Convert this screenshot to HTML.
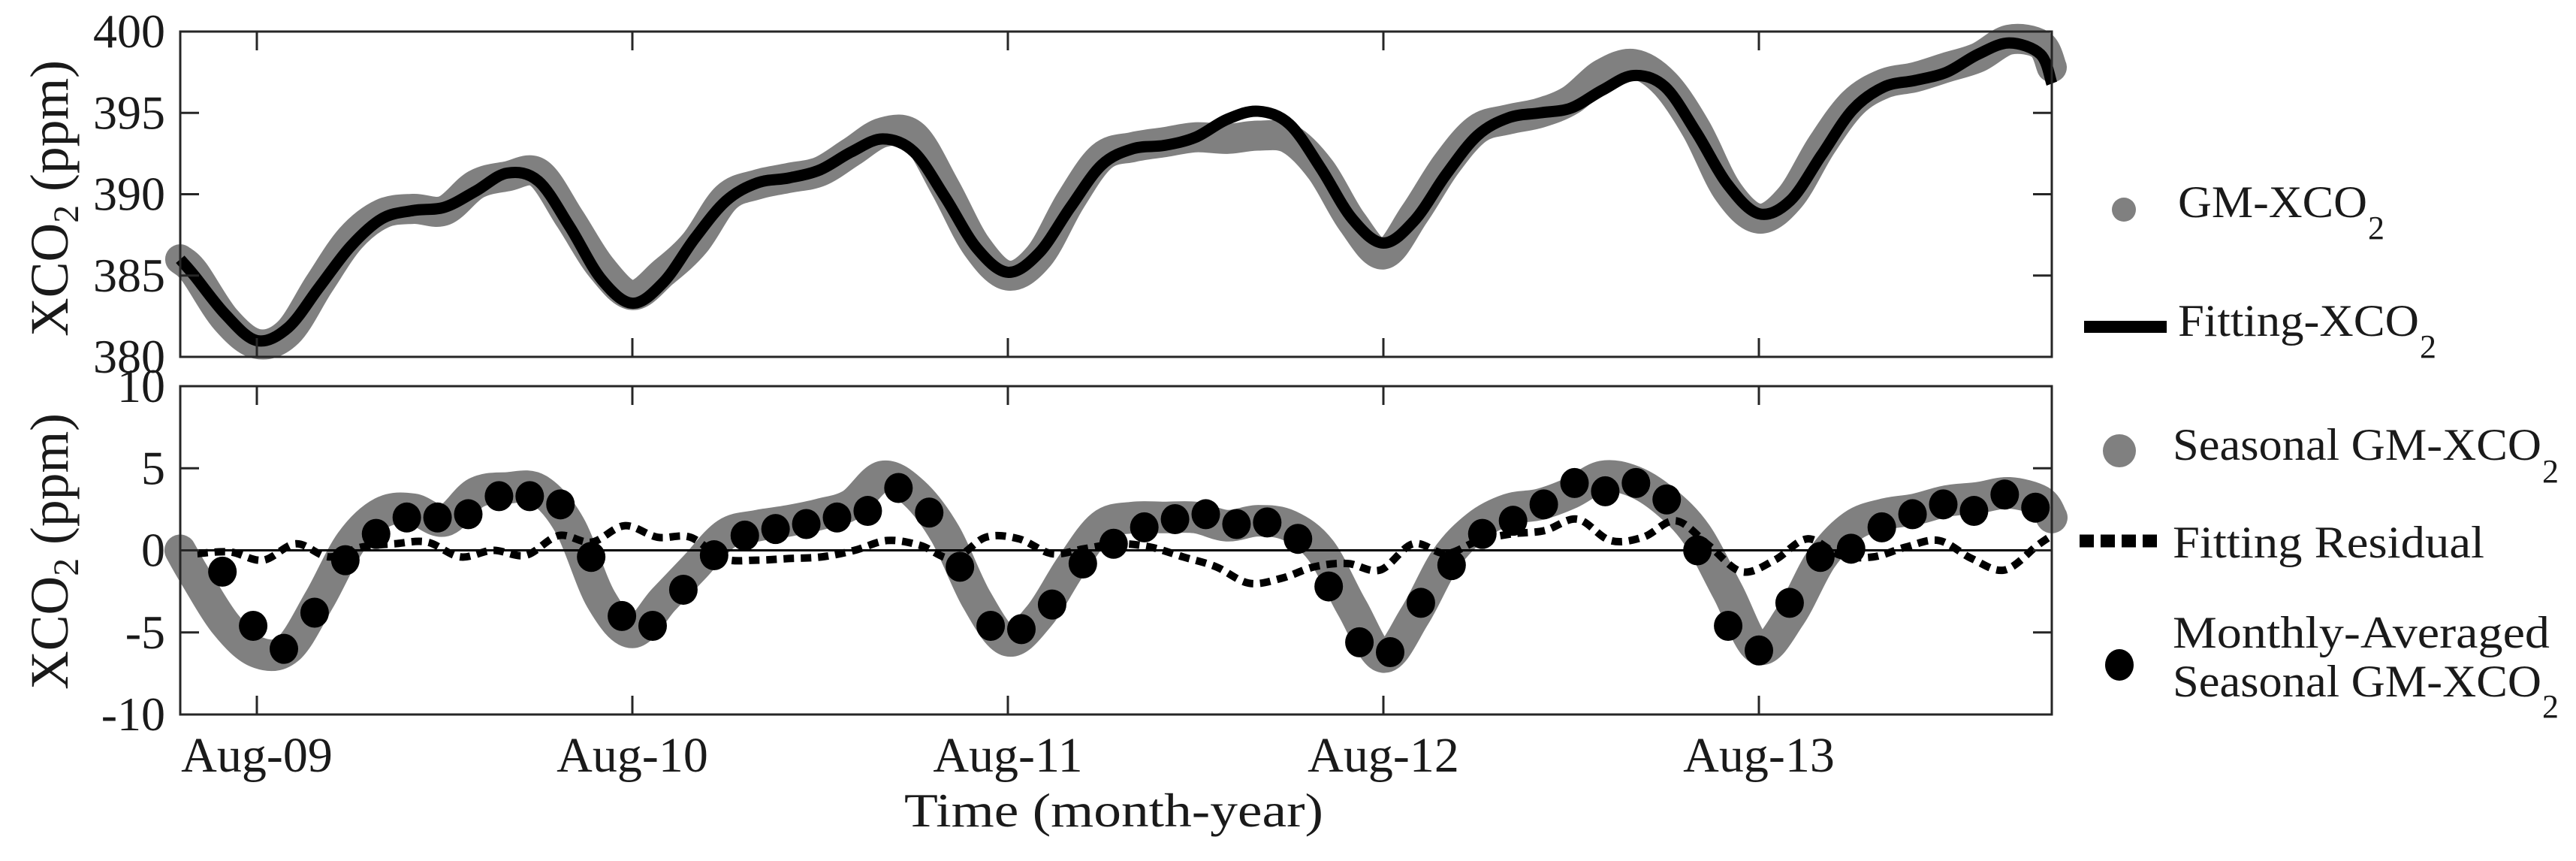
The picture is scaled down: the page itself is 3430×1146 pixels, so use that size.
<!DOCTYPE html>
<html><head><meta charset="utf-8"><style>
html,body{margin:0;padding:0;background:#fff;}
svg{display:block;}
text{font-family:"Liberation Serif",serif;fill:#1a1a1a;}
</style></head><body>
<svg id="chart" width="3430" height="1146" viewBox="0 0 3430 1146" xmlns="http://www.w3.org/2000/svg">
<g id="topPlot"></g>
<g id="botPlot"></g>
<g id="axes"></g>
<text transform="translate(90,264) rotate(-90)" text-anchor="middle" font-size="72" textLength="368" lengthAdjust="spacingAndGlyphs">XCO<tspan font-size="48" dy="14">2</tspan><tspan dy="-14"> (ppm)</tspan></text>
<text transform="translate(90,734) rotate(-90)" text-anchor="middle" font-size="72" textLength="368" lengthAdjust="spacingAndGlyphs">XCO<tspan font-size="48" dy="14">2</tspan><tspan dy="-14"> (ppm)</tspan></text>
<text x="1483" y="1100" text-anchor="middle" font-size="64" textLength="558" lengthAdjust="spacingAndGlyphs">Time (month-year)</text>
<g>
<ellipse cx="2828" cy="279" rx="16" ry="16" fill="#808080"/>
<text x="2900" y="289" font-size="60" textLength="252" lengthAdjust="spacingAndGlyphs">GM-XCO</text>
<text x="3153" y="318" font-size="44" textLength="22" lengthAdjust="spacingAndGlyphs">2</text>
<rect x="2775" y="427" width="110" height="16" fill="#000"/>
<text x="2900" y="447" font-size="60" textLength="321" lengthAdjust="spacingAndGlyphs">Fitting-XCO</text>
<text x="3222" y="476" font-size="44" textLength="22" lengthAdjust="spacingAndGlyphs">2</text>
<ellipse cx="2822" cy="600" rx="22" ry="22" fill="#808080"/>
<text x="2893" y="612" font-size="60" textLength="491" lengthAdjust="spacingAndGlyphs">Seasonal GM-XCO</text>
<text x="3385" y="642" font-size="44" textLength="22" lengthAdjust="spacingAndGlyphs">2</text>
<line x1="2769" y1="720" x2="2872" y2="720" stroke="#000" stroke-width="17" stroke-dasharray="19 9"/>
<text x="2893" y="742" font-size="60" textLength="415" lengthAdjust="spacingAndGlyphs">Fitting Residual</text>
<ellipse cx="2822" cy="885" rx="19" ry="21" fill="#000"/>
<text x="2893" y="862" font-size="60" textLength="502" lengthAdjust="spacingAndGlyphs">Monthly-Averaged</text>
<text x="2893" y="927" font-size="60" textLength="491" lengthAdjust="spacingAndGlyphs">Seasonal GM-XCO</text>
<text x="3385" y="955" font-size="44" textLength="22" lengthAdjust="spacingAndGlyphs">2</text>
</g>
</svg>
<script>
// months counted from Jan-2009 = 0 (Aug-09 = 7)
const fitMonths = [4.55,5,6,7,8,9,10,11,12,13,14,15,16,17,18,19,20,21,22,23,24,25,26,27,28,29,30,31,32,33,34,35,36,37,38,39,40,41,42,43,44,45,46,47,48,49,50,51,52,53,54,55,56,57,58,59,60,61,62,63,64,64.36];
const fitValues = [386.0,385.0,382.6,381.0,381.8,384.3,386.8,388.5,389.0,389.2,390.2,391.3,390.8,388.0,384.8,383.3,384.6,387.3,389.6,390.7,391.0,391.5,392.6,393.4,392.6,389.8,386.7,385.2,386.4,389.2,391.8,392.8,393.0,393.5,394.6,395.1,394.3,391.6,388.5,387.0,388.4,391.2,393.6,394.7,395.0,395.3,396.4,397.3,396.6,393.8,390.6,388.8,389.6,392.4,395.2,396.6,397.0,397.5,398.6,399.3,398.6,396.8];
const gmValues = [386.0,385.2,382.3,380.8,381.5,384.5,387.3,388.8,389.1,389.0,390.6,391.1,391.3,388.5,385.5,383.8,385.2,387.0,389.8,390.6,391.0,391.4,392.6,393.8,393.6,390.4,386.8,385.0,386.2,389.6,392.3,392.9,393.2,393.5,393.4,393.6,393.4,391.5,388.3,386.3,388.8,391.8,394.0,394.6,395.0,395.8,397.4,398.0,396.8,394.0,390.2,388.5,389.8,393.0,395.6,396.8,397.2,397.8,398.4,399.5,399.2,397.8];
const seasonalValues = [0,-1.5,-4.5,-6.2,-6.0,-3.0,0.5,2.3,2.5,1.8,3.5,3.8,3.7,1.5,-3.0,-5.0,-3.0,-1.0,1.0,1.5,1.8,2.2,2.8,4.5,3.5,1.0,-3.0,-5.5,-4.0,-1.0,1.5,2.0,2.0,2.0,1.5,1.8,1.5,0,-3.5,-6.5,-4.0,-0.5,1.5,2.5,2.8,3.5,4.5,4.2,3.0,1.0,-2.5,-6.0,-4.0,-0.5,1.5,2.2,2.5,3.0,3.2,3.5,3.0,2.0];
const monthlyValues = [-1.3,-4.6,-6.0,-3.8,-0.6,1.0,2.0,2.0,2.2,3.3,3.3,2.8,-0.4,-4.0,-4.6,-2.4,-0.3,0.9,1.3,1.6,2.0,2.4,3.8,2.3,-1.0,-4.6,-4.8,-3.3,-0.8,0.4,1.4,1.9,2.2,1.6,1.7,0.7,-2.2,-5.6,-6.2,-3.2,-0.9,1.0,1.8,2.8,4.1,3.6,4.1,3.1,0.0,-4.6,-6.1,-3.2,-0.4,0.1,1.4,2.2,2.8,2.4,3.4,2.6];
const residualValues = [-0.2,-0.1,-0.6,0.4,-0.4,0.2,0.4,0.5,-0.4,0,-0.3,0.9,0.5,1.5,0.8,0.8,-0.5,-0.6,-0.5,-0.4,0,0.6,0.3,-0.5,0.8,0.7,-0.2,0.1,0.4,0.2,-0.4,-1.0,-2.0,-1.7,-1.0,-0.8,-1.2,0.4,-0.2,0.6,1.0,1.2,1.9,0.6,0.8,1.8,0.3,-1.3,-0.6,0.7,-0.3,-0.4,0.2,0.6,-0.5,-1.2,0.3,0.9];
const xTickLabels = ["Aug-09","Aug-10","Aug-11","Aug-12","Aug-13"];
const xTickMonths = [7,19,31,43,55];
const topYTicks = [380,385,390,395,400];
const botYTicks = [-10,-5,0,5,10];

const NS="http://www.w3.org/2000/svg";
const L=240,R=2732,T1=42,B1=475,T2=514,B2=951;
const xs=m=>342+(m-7)*500/12;
const y1=v=>B1-(v-380)/20*(B1-T1);
const y2=v=>B2-(v+10)/20*(B2-T2);
function mk(tag,attrs,parent){const e=document.createElementNS(NS,tag);for(const k in attrs)e.setAttribute(k,attrs[k]);parent.appendChild(e);return e;}
function smooth(pts){
  let d='M'+pts[0][0]+','+pts[0][1];
  for(let i=0;i<pts.length-1;i++){
    const p0=pts[Math.max(i-1,0)],p1=pts[i],p2=pts[i+1],p3=pts[Math.min(i+2,pts.length-1)];
    const c1=[p1[0]+(p2[0]-p0[0])/6,p1[1]+(p2[1]-p0[1])/6];
    const c2=[p2[0]-(p3[0]-p1[0])/6,p2[1]-(p3[1]-p1[1])/6];
    d+=' C'+c1[0]+','+c1[1]+' '+c2[0]+','+c2[1]+' '+p2[0]+','+p2[1];
  }
  return d;
}
const topG=document.getElementById('topPlot'),botG=document.getElementById('botPlot'),ax=document.getElementById('axes');

let e=mk('path',{d:smooth(fitMonths.map((m,i)=>[xs(m),y1(gmValues[i])])),fill:'none',stroke:'#808080','stroke-width':40,'stroke-linejoin':'round','stroke-linecap':'round'},topG);


e=mk('path',{d:smooth(fitMonths.map((m,i)=>[xs(m),y1(fitValues[i])])),fill:'none',stroke:'#000','stroke-width':15,'stroke-linejoin':'round'},topG);



e=mk('path',{d:smooth(fitMonths.map((m,i)=>[xs(m),y2(seasonalValues[i])])),fill:'none',stroke:'#808080','stroke-width':42,'stroke-linejoin':'round','stroke-linecap':'round'},botG);


e=mk('line',{x1:L,x2:R,y1:y2(0),y2:y2(0),stroke:'#000','stroke-width':3},botG);


e=mk('path',{d:smooth(residualValues.map((v,i)=>[xs(Math.min(5.1+i*1.05,64.36)),y2(v)])),fill:'none',stroke:'#000','stroke-width':10,'stroke-dasharray':'14 9'},botG);


monthlyValues.forEach((v,i)=>{
  const c=mk('ellipse',{cx:xs(5.9+i*0.982),cy:y2(v),rx:19,ry:20,fill:'#000'},botG);
  
  
});

[[T1,B1],[T2,B2]].forEach(([t,b],k)=>{
  const r=mk('rect',{x:L,y:t,width:R-L,height:b-t,fill:'none',stroke:'#262626','stroke-width':3},ax);
  
  
  xTickMonths.forEach(m=>{
    const x=xs(m);
    mk('line',{x1:x,x2:x,y1:b,y2:b-25,stroke:'#262626','stroke-width':3},ax);
    mk('line',{x1:x,x2:x,y1:t,y2:t+25,stroke:'#262626','stroke-width':3},ax);
  });
  const ticks=k?botYTicks:topYTicks, fy=k?y2:y1;
  ticks.forEach(v=>{
    const y=fy(v);
    mk('line',{x1:L,x2:L+25,y1:y,y2:y,stroke:'#262626','stroke-width':3},ax);
    mk('line',{x1:R,x2:R-25,y1:y,y2:y,stroke:'#262626','stroke-width':3},ax);
    const tx=mk('text',{x:220,y:y+21,'text-anchor':'end','font-size':64},ax);
    tx.textContent=String(v);
    
    
  });
});
xTickMonths.forEach((m,i)=>{
  const tx=mk('text',{x:xs(m),y:1027,'text-anchor':'middle','font-size':66},ax);
  tx.textContent=xTickLabels[i];
  
  
});
</script>
</body></html>
